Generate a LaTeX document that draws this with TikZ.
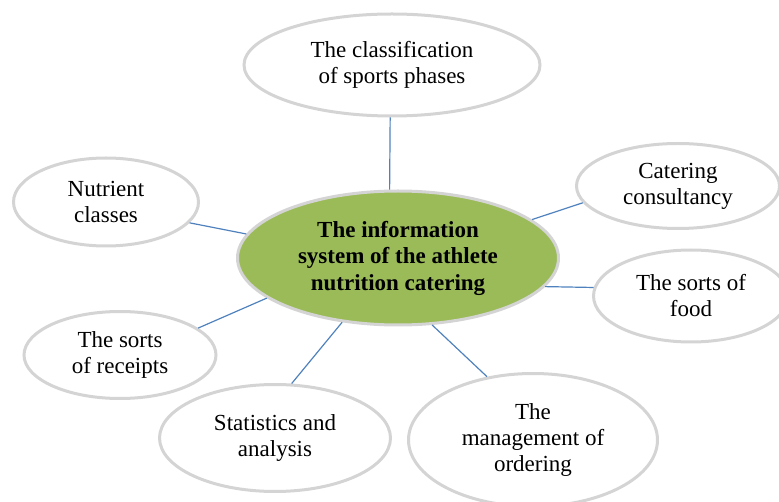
\documentclass[tikz,border=0pt]{standalone}
\usepackage{fontspec}
\setmainfont{Liberation Serif}
\usetikzlibrary{shapes.geometric}
\definecolor{hubgreen}{HTML}{9BBB59}
\definecolor{rimgray}{HTML}{D4D4D4}
\definecolor{linkblue}{HTML}{4F81BD}

\begin{document}
\begin{tikzpicture}[x=1pt,y=-1pt,
    bubble/.style={ellipse, draw=rimgray, line width=3pt, fill=white, inner sep=0pt,
        align=center, font=\fontsize{23}{26}\selectfont},
    hub/.style={bubble, fill=hubgreen, font=\fontsize{23}{26.5}\selectfont\bfseries},
    link/.style={draw=linkblue, line width=1.2pt}]
    \useasboundingbox (0,0) rectangle (779,502);

    % Draw the centre ellipse
    \node[hub, minimum width=321, minimum height=134] (hub) at (398,258)
        {The information\\system of the athlete\\nutrition catering};

    % Draw the outer ellipses
    \node[bubble, minimum width=296, minimum height=102] (phases) at (392,65)
        {The classification\\of sports phases};
    \node[bubble, minimum width=203, minimum height=85] (consult) at (678,186)
        {Catering\\consultancy};
    \node[bubble, minimum width=195, minimum height=92] (food) at (691,296)
        {The sorts of\\food};
    \node[bubble, minimum width=249, minimum height=133] (order) at (533,440)
        {The\\management of\\ordering};
    \node[bubble, minimum width=231, minimum height=107] (stats) at (275,438)
        {Statistics and\\analysis};
    \node[bubble, minimum width=192, minimum height=87] (receipts) at (120,355)
        {The sorts\\of receipts};
    \node[bubble, minimum width=185, minimum height=88] (nutrient) at (106,202)
        {Nutrient\\classes};

    % Connect the outer ellipses to the centre
    \draw[link] (hub.97) -- (phases.268);
    \draw[link] (hub.16) -- (consult.190);
    \draw[link] (hub.-11) -- (food.175);
    \draw[link] (hub.-63) -- (order.126);
    \draw[link] (hub.229) -- (stats.73);
    \draw[link] (hub.197) -- (receipts.19);
    \draw[link] (hub.171) -- (nutrient.-14);

\end{tikzpicture}
\end{document}
